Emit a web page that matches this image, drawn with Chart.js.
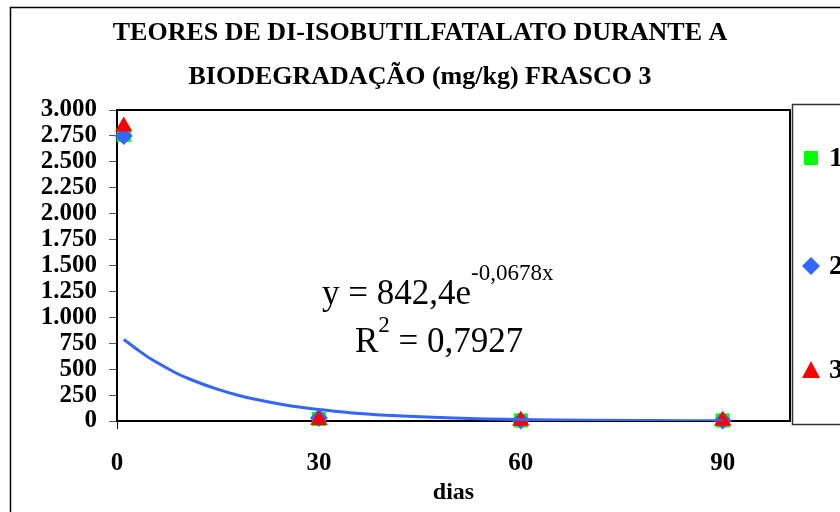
<!DOCTYPE html>
<html lang="pt">
<head>
    <meta charset="UTF-8">
    <title>Teores de DI-isobutilftalato - Frasco 3</title>
    <script src="https://cdn.jsdelivr.net/npm/chart.js"></script>
    <style>
        body { margin: 0; background: #fff; }
        #wrap { width: 840px; height: 512px; }
    </style>
</head>
<body>
<div id="wrap"><canvas id="grafico" width="840" height="512"></canvas></div>
<script>
// dados
const dias = [1, 30, 60, 90];
const serie1 = [2760, 20, 5, 5];
const serie2 = [2750, 30, 5, 5];
const serie3 = [2840, 10, 3, 3];
const rotulos = ['1', '2', '3'];

// linha de tendência exponencial
const tendDias = [1, 3, 5, 8, 10, 13, 15, 18, 20, 25, 30, 35, 40, 45, 50, 55, 60, 65, 70, 80, 90];
const tendValores = [787, 690, 600, 490, 425, 350, 305, 248, 217, 155, 110, 78, 56, 40, 28, 20, 14, 10, 7, 4, 2];

const xTicks = [0, 30, 60, 90];
const yTicks = [0, 250, 500, 750, 1000, 1250, 1500, 1750, 2000, 2250, 2500, 2750, 3000];
const yTickLabels = ['0', '250', '500', '750', '1.000', '1.250', '1.500', '1.750', '2.000', '2.250', '2.500', '2.750', '3.000'];

const tituloLinhas = ['TEORES DE DI-ISOBUTILFATALATO DURANTE A', 'BIODEGRADAÇÃO (mg/kg) FRASCO 3'];
const eqTexto = 'y = 842,4e';
const eqExpoente = '-0,0678x';
const r2Texto = ' = 0,7927';

const serif = "'Liberation Serif', 'Times New Roman', serif";
const cores = ['#00FF00', '#3366FF', '#FF0000'];
const estilos = ['rect', 'rectRot', 'triangle'];

function pts(xs, ys) {
    return xs.map((x, i) => ({ x: x, y: ys[i] }));
}

function marcador(ctx, estilo, x, y, cor) {
    ctx.save();
    ctx.fillStyle = cor;
    ctx.beginPath();
    if (estilo === 'rect') {
        ctx.rect(x - 7, y - 7, 14, 14);
    } else if (estilo === 'rectRot') {
        ctx.moveTo(x, y - 9); ctx.lineTo(x + 9, y); ctx.lineTo(x, y + 9); ctx.lineTo(x - 9, y);
    } else {
        ctx.moveTo(x, y - 9); ctx.lineTo(x + 9, y + 8); ctx.lineTo(x - 9, y + 8);
    }
    ctx.closePath();
    ctx.fill();
    ctx.restore();
}

const fundo = {
    id: 'fundo',
    beforeDraw(chart) {
        const ctx = chart.ctx;
        ctx.save();
        ctx.fillStyle = '#fff';
        ctx.fillRect(0, 0, chart.width, chart.height);
        ctx.strokeStyle = '#000';
        ctx.lineWidth = 1.5;
        ctx.strokeRect(10.5, 7.5, 1000, 1000);
        ctx.restore();
    },
    afterDatasetsDraw(chart) {
        const a = chart.chartArea, ctx = chart.ctx;
        ctx.save();
        ctx.strokeStyle = '#000';
        ctx.lineWidth = 2;
        ctx.beginPath();
        ctx.moveTo(a.left, a.top); ctx.lineTo(a.right, a.top); ctx.lineTo(a.right, a.bottom);
        ctx.stroke();
        ctx.restore();
    },
    afterDraw(chart) {
        const ctx = chart.ctx;
        // equação da tendência
        ctx.save();
        ctx.fillStyle = '#000';
        ctx.textBaseline = 'alphabetic';
        ctx.textAlign = 'left';
        ctx.font = '35px ' + serif;
        let x = 322;
        ctx.fillText(eqTexto, x, 304);
        x += ctx.measureText(eqTexto).width;
        ctx.font = '23px ' + serif;
        ctx.fillText(eqExpoente, x, 280);
        ctx.font = '35px ' + serif;
        x = 355;
        ctx.fillText('R', x, 352);
        x += ctx.measureText('R').width;
        ctx.font = '23px ' + serif;
        ctx.fillText('2', x, 332);
        x += ctx.measureText('2').width;
        ctx.font = '35px ' + serif;
        ctx.fillText(r2Texto, x, 352);

        // legenda
        ctx.strokeStyle = '#333';
        ctx.lineWidth = 1.5;
        ctx.strokeRect(792.5, 104.5, 200, 320);
        const ys = [158, 266, 370];
        ctx.font = 'bold 28px ' + serif;
        ctx.textBaseline = 'middle';
        chart.data.datasets.forEach((ds, i) => {
            if (i > 2) return;
            marcador(ctx, estilos[i], 811, ys[i], cores[i]);
            ctx.fillStyle = '#000';
            ctx.fillText(ds.label, 829, ys[i] + 1);
        });
        ctx.restore();
    }
};

new Chart(document.getElementById('grafico'), {
    type: 'scatter',
    data: {
        datasets: [
            { label: rotulos[0], data: pts(dias, serie1), backgroundColor: cores[0], borderWidth: 0, pointStyle: estilos[0], pointRadius: 10, order: 3, clip: false },
            { label: rotulos[1], data: pts(dias, serie2), backgroundColor: cores[1], borderWidth: 0, pointStyle: estilos[1], pointRadius: 9, order: 2, clip: false },
            { label: rotulos[2], data: pts(dias, serie3), backgroundColor: cores[2], borderWidth: 0, pointStyle: estilos[2], pointRadius: 10, order: 1, clip: false },
            { label: 'tendência', data: pts(tendDias, tendValores), showLine: true, borderColor: '#3366FF', borderWidth: 3, pointRadius: 0, tension: 0.4, cubicInterpolationMode: 'monotone', order: 0 }
        ]
    },
    options: {
        responsive: false,
        animation: false,
        events: [],
        layout: { padding: 0 },
        plugins: {
            legend: { display: false },
            tooltip: { enabled: false },
            title: {
                display: true,
                text: tituloLinhas,
                color: '#000',
                font: { family: serif, size: 26, weight: 'bold', lineHeight: 44 / 26 },
                padding: { top: 11.5, bottom: 10.5 }
            }
        },
        scales: {
            x: {
                type: 'linear',
                min: 0,
                max: 100,
                afterFit(s) { s.height = 91; },
                afterBuildTicks(s) { s.ticks = xTicks.map(v => ({ value: v })); },
                border: { color: '#000', width: 2 },
                grid: {
                    drawOnChartArea: false,
                    tickLength: 8,
                    color: c => (c.tick && c.tick.value === 0 ? '#000' : 'rgba(0,0,0,0)')
                },
                ticks: { color: '#000', padding: 20, font: { family: serif, size: 25, weight: 'bold' } },
                title: { display: true, text: 'dias', color: '#000', padding: { top: 0, bottom: 5 }, font: { family: serif, size: 24, weight: 'bold' } }
            },
            y: {
                min: 0,
                max: 3000,
                afterFit(s) { s.width = 117; },
                afterBuildTicks(s) { s.ticks = yTicks.map(v => ({ value: v })); },
                border: { color: '#000', width: 2 },
                grid: { drawOnChartArea: false, tickLength: 8, color: '#555' },
                ticks: {
                    color: '#000',
                    padding: 12,
                    autoSkip: false,
                    font: { family: serif, size: 25, weight: 'bold', lineHeight: 1 },
                    callback: (v) => yTickLabels[yTicks.indexOf(v)]
                }
            },
            // eixo vazio à direita: reserva o espaço da legenda
            y2: {
                position: 'right',
                min: 0,
                max: 3000,
                afterFit(s) { s.width = 50; },
                border: { display: false },
                grid: { display: false },
                ticks: { display: false }
            }
        }
    },
    plugins: [fundo]
});
</script>
</body>
</html>
